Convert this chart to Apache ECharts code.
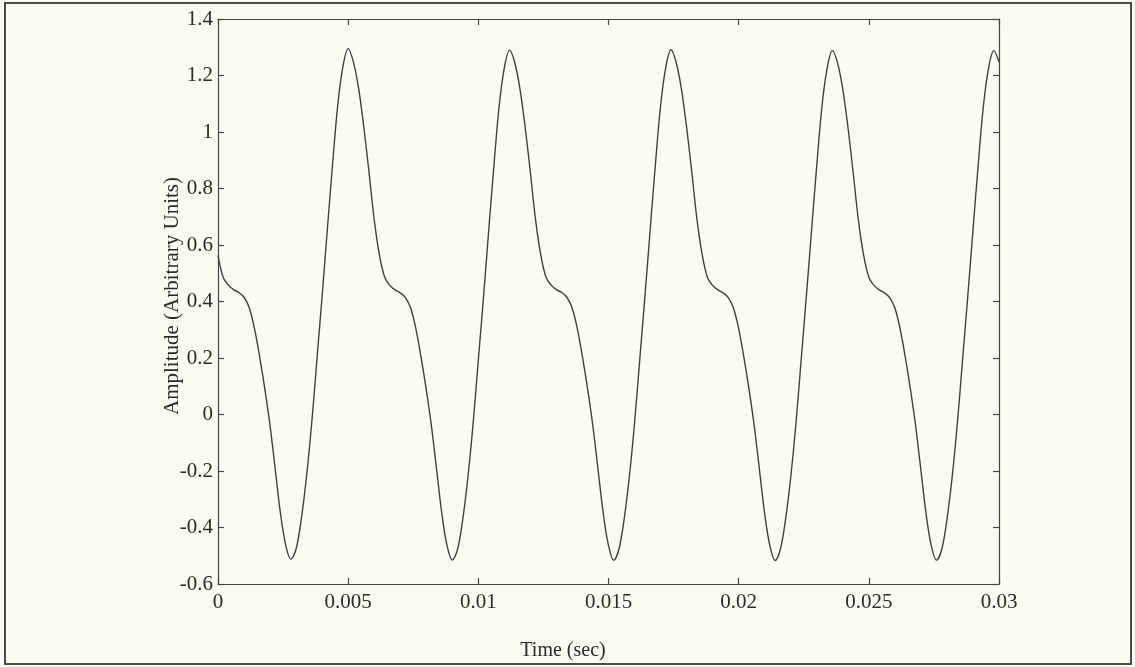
<!DOCTYPE html>
<html>
<head>
<meta charset="utf-8">
<script src="https://cdn.jsdelivr.net/npm/echarts@6/dist/echarts.min.js"></script>
<style>
  html, body { margin: 0; padding: 0; background: #fbfbf2; }
  #chart { width: 1135px; height: 667px; }
</style>
</head>
<body>
<div id="chart"></div>
<script>
// Sample times (sec)
const timeSec = [
  0,0.0002,0.0004,0.0006,0.0008,0.001,0.0012,0.0014,0.0016,0.0018,
  0.002,0.0022,0.0024,0.0026,0.0028,0.003,0.0032,0.0034,0.0036,0.0038,
  0.004,0.0042,0.0044,0.0046,0.0048,0.005,0.0052,0.0054,0.0056,0.0058,
  0.006,0.0062,0.0064,0.0066,0.0068,0.007,0.0072,0.0074,0.0076,0.0078,
  0.008,0.0082,0.0084,0.0086,0.0088,0.009,0.0092,0.0094,0.0096,0.0098,
  0.01,0.0102,0.0104,0.0106,0.0108,0.011,0.0112,0.0114,0.0116,0.0118,
  0.012,0.0122,0.0124,0.0126,0.0128,0.013,0.0132,0.0134,0.0136,0.0138,
  0.014,0.0142,0.0144,0.0146,0.0148,0.015,0.0152,0.0154,0.0156,0.0158,
  0.016,0.0162,0.0164,0.0166,0.0168,0.017,0.0172,0.0174,0.0176,0.0178,
  0.018,0.0182,0.0184,0.0186,0.0188,0.019,0.0192,0.0194,0.0196,0.0198,
  0.02,0.0202,0.0204,0.0206,0.0208,0.021,0.0212,0.0214,0.0216,0.0218,
  0.022,0.0222,0.0224,0.0226,0.0228,0.023,0.0232,0.0234,0.0236,0.0238,
  0.024,0.0242,0.0244,0.0246,0.0248,0.025,0.0252,0.0254,0.0256,0.0258,
  0.026,0.0262,0.0264,0.0266,0.0268,0.027,0.0272,0.0274,0.0276,0.0278,
  0.028,0.0282,0.0284,0.0286,0.0288,0.029,0.0292,0.0294,0.0296,0.0298,
  0.03
];

// Amplitude (arbitrary units)
const amplitude = [
  0.563,0.485,0.458,0.442,0.432,0.415,0.378,0.305,0.205,0.090,
  -0.040,-0.195,-0.350,-0.462,-0.512,-0.476,-0.370,-0.220,-0.030,0.195,
  0.420,0.655,0.885,1.095,1.232,1.295,1.248,1.155,1.018,0.858,
  0.690,
  0.565,0.487,0.457,0.441,0.431,0.414,0.377,0.304,0.203,0.088,
  -0.042,-0.197,-0.352,-0.465,-0.515,-0.478,-0.372,-0.222,-0.032,0.193,
  0.418,0.652,0.882,1.092,1.228,1.290,1.245,1.152,1.016,0.856,
  0.688,
  0.564,0.486,0.458,0.442,0.432,0.415,0.378,0.305,0.204,0.089,
  -0.041,-0.196,-0.351,-0.464,-0.516,-0.477,-0.371,-0.221,-0.031,0.194,
  0.419,0.653,0.883,1.093,1.229,1.291,1.246,1.153,1.017,0.857,
  0.689,
  0.565,0.486,0.457,0.441,0.431,0.414,0.377,0.304,0.203,0.088,
  -0.042,-0.197,-0.352,-0.465,-0.517,-0.478,-0.372,-0.222,-0.032,0.193,
  0.418,0.652,0.882,1.091,1.227,1.288,1.244,1.151,1.015,0.855,
  0.687,
  0.564,0.486,0.457,0.441,0.431,0.414,0.377,0.304,0.203,0.088,
  -0.042,-0.197,-0.352,-0.465,-0.516,-0.478,-0.372,-0.222,-0.032,0.193,
  0.418,0.652,0.882,1.091,1.227,1.288,1.248
];

const xTickLabels = ['0','0.005','0.01','0.015','0.02','0.025','0.03'];
const yTickLabels = ['-0.6','-0.4','-0.2','0','0.2','0.4','0.6','0.8','1','1.2','1.4'];
const xTitle = 'Time (sec)';
const yTitle = 'Amplitude (Arbitrary Units)';

const seriesData = timeSec.map((t, i) => [t, amplitude[i]]);

const FONT = '"Liberation Serif", "DejaVu Serif", serif';
const AX = '#454545';

function xAxisCfg(pos, showLabels) {
  return {
    type: 'value', position: pos, min: 0, max: 0.03, interval: 0.005,
    axisLine: { show: true, onZero: false, lineStyle: { color: AX, width: 1.2 } },
    axisTick: { show: true, inside: true, length: 6, lineStyle: { color: AX, width: 1.2 } },
    axisLabel: {
      show: showLabels, margin: 8, color: '#2a2a2a', fontFamily: FONT, fontSize: 21,
      formatter: (v, i) => xTickLabels[i]
    },
    splitLine: { show: false }
  };
}
function yAxisCfg(pos, showLabels) {
  return {
    type: 'value', position: pos, min: -0.6, max: 1.4, interval: 0.2,
    axisLine: { show: true, onZero: false, lineStyle: { color: AX, width: 1.2 } },
    axisTick: { show: true, inside: true, length: 6, lineStyle: { color: AX, width: 1.2 } },
    axisLabel: {
      show: showLabels, margin: 5, color: '#2a2a2a', fontFamily: FONT, fontSize: 21,
      formatter: (v, i) => yTickLabels[i]
    },
    splitLine: { show: false }
  };
}

const chart = echarts.init(document.getElementById('chart'), null, { renderer: 'canvas' });
chart.setOption({
  backgroundColor: '#fbfbf2',
  animation: false,
  grid: { left: 218, right: 136, top: 19, bottom: 83 },
  xAxis: [xAxisCfg('bottom', true), xAxisCfg('top', false)],
  yAxis: [yAxisCfg('left', true), yAxisCfg('right', false)],
  series: [{
    type: 'line',
    xAxisIndex: 0, yAxisIndex: 0,
    data: seriesData,
    showSymbol: false,
    smooth: 0.35,
    lineStyle: { color: '#404040', width: 1.4 }
  }],
  graphic: [
    {
      type: 'rect', silent: true,
      shape: { x: 5, y: 3, width: 1126, height: 661 },
      style: { fill: 'none', stroke: '#4a4a4a', lineWidth: 2 }
    },
    {
      type: 'text', x: 563, y: 651, silent: true,
      style: { text: xTitle, font: '20px ' + FONT, fill: '#2a2a2a', align: 'center', verticalAlign: 'middle' }
    },
    {
      type: 'text', x: 172, y: 296, rotation: Math.PI / 2, silent: true,
      style: { text: yTitle, font: '21px ' + FONT, fill: '#2a2a2a', align: 'center', verticalAlign: 'middle' }
    }
  ]
});
</script>
</body>
</html>
